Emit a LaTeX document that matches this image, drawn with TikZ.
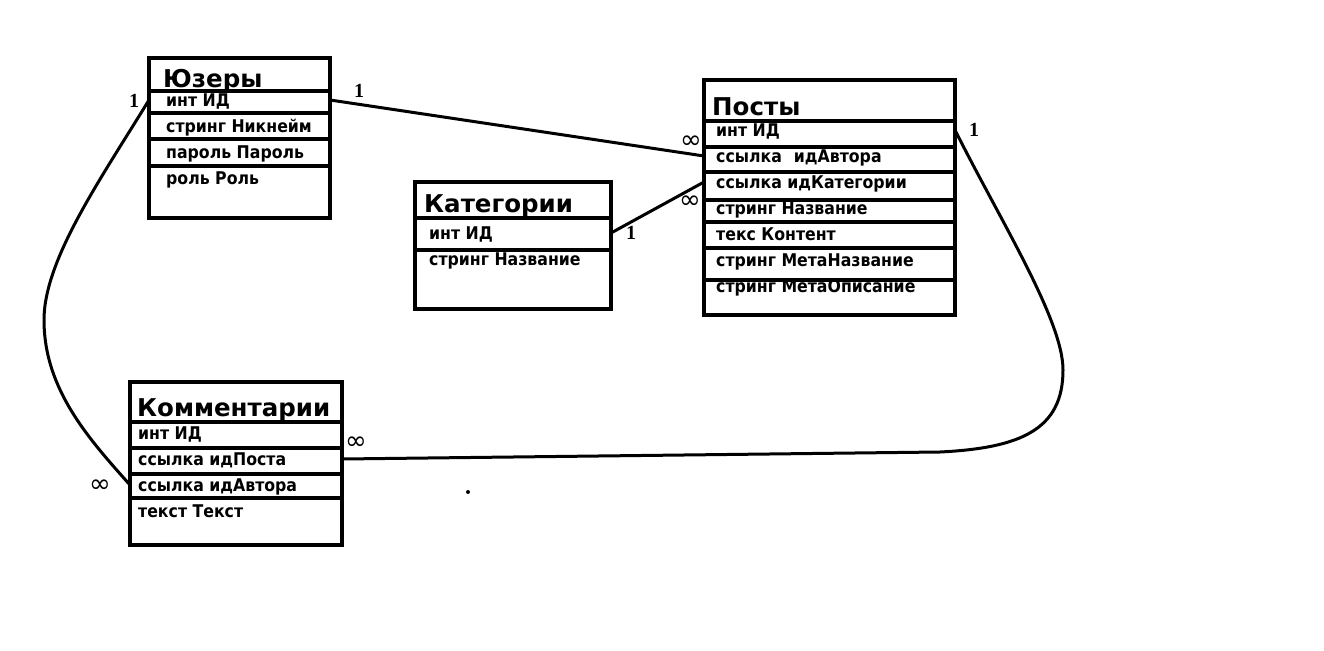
\documentclass[tikz,border=0pt]{standalone}
\usepackage{fontspec}
\setmainfont{DejaVu Sans}
\newfontfamily\fldfont{DejaVu Sans Condensed}
\newfontfamily\numfont{Liberation Serif}
\tikzset{
  tbl/.style={draw,line width=3.5pt,anchor=north west,inner sep=0pt,outer sep=0pt},
  ttl/.style={anchor=west,inner sep=0pt,text height=18.5pt,text depth=0pt,font=\bfseries\fontsize{24.5}{24.5}\selectfont},
  fld/.style={anchor=west,inner sep=0pt,text height=12.5pt,text depth=0pt,font=\fldfont\bfseries\fontsize{17.5}{17.5}\selectfont},
  sep/.style={line width=3.5pt},
  link/.style={line width=3pt},
  one/.style={inner sep=0pt,font=\numfont\bfseries\fontsize{20}{20}\selectfont},
  many/.style={inner sep=0pt,font=\fontsize{26}{26}\selectfont},
}
\begin{document}
\begin{tikzpicture}[x=1pt,y=-1pt]
    \useasboundingbox[fill=white] (0,0) rectangle (1324,650);
    % tables
    \node[tbl,minimum width=181pt,minimum height=160pt] (users) at (149,58) {};
    \node[tbl,minimum width=251pt,minimum height=235pt] (posts) at (704,80) {};
    \node[tbl,minimum width=196pt,minimum height=127pt] (cats) at (415,182) {};
    \node[tbl,minimum width=212pt,minimum height=163pt] (comm) at (130,382) {};
    \node[ttl] (usersT) at (163,78) {Юзеры};
    \node[ttl] (postsT) at (712,106) {Посты};
    \node[ttl] (catsT) at (424,203) {Категории};
    \node[ttl] (commT) at (137,407) {Комментарии};
    \foreach \y in {91,113,139,166}
        \draw[sep] (users.west |- 0,\y) -- (users.east |- 0,\y);
    \foreach \y in {121,147,172,200,222,248,280}
        \draw[sep] (posts.west |- 0,\y) -- (posts.east |- 0,\y);
    \foreach \y in {218,250}
        \draw[sep] (cats.west |- 0,\y) -- (cats.east |- 0,\y);
    \foreach \y in {422,448,474,498}
        \draw[sep] (comm.west |- 0,\y) -- (comm.east |- 0,\y);
    % fields
    \foreach \t [count=\i] in {инт ИД,стринг Никнейм,пароль Пароль,роль Роль}
        \node[fld] (u\i) at (166,{74+26*\i}) {\t};
    \foreach \t [count=\i] in {инт ИД,{ссылка\hspace{12pt}идАвтора},ссылка идКатегории,стринг Название,текс Контент,стринг МетаНазвание,стринг МетаОписание}
        \node[fld] (p\i) at (716,{104+26*\i}) {\t};
    \foreach \t [count=\i] in {инт ИД,стринг Название}
        \node[fld] (c\i) at (429,{207+26*\i}) {\t};
    \foreach \t [count=\i] in {инт ИД,ссылка идПоста,ссылка идАвтора,текст Текст}
        \node[fld] (m\i) at (138,{407+26*\i}) {\t};
    % relations
    \draw[link] (users.east |- u1) -- (posts.west |- p2);
    \draw[link] (cats.east |- c1) -- (posts.west |- p3);
    \draw[link] (users.west |- u1) .. controls (100,180) and (44,260) .. (44,320)
        .. controls (44,390) and (90,440) .. (comm.west |- m3);
    \draw[link] (posts.east |- p1) .. controls (1000,220) and (1063,320) .. (1063,370)
        .. controls (1063,430) and (1020,448) .. (940,452) -- (comm.east |- m2);
    \node[one] (n1) at (359,91) {1};
    \node[many] (n2) at (691,142) {∞};
    \node[one] (n3) at (631,233) {1};
    \node[many] (n4) at (690,202) {∞};
    \node[one] (n5) at (134,101) {1};
    \node[many] (n6) at (100,486) {∞};
    \node[one] (n7) at (974,130) {1};
    \node[many] (n8) at (356,443) {∞};
    \fill (468,492) circle (2);
\end{tikzpicture}
\end{document}
